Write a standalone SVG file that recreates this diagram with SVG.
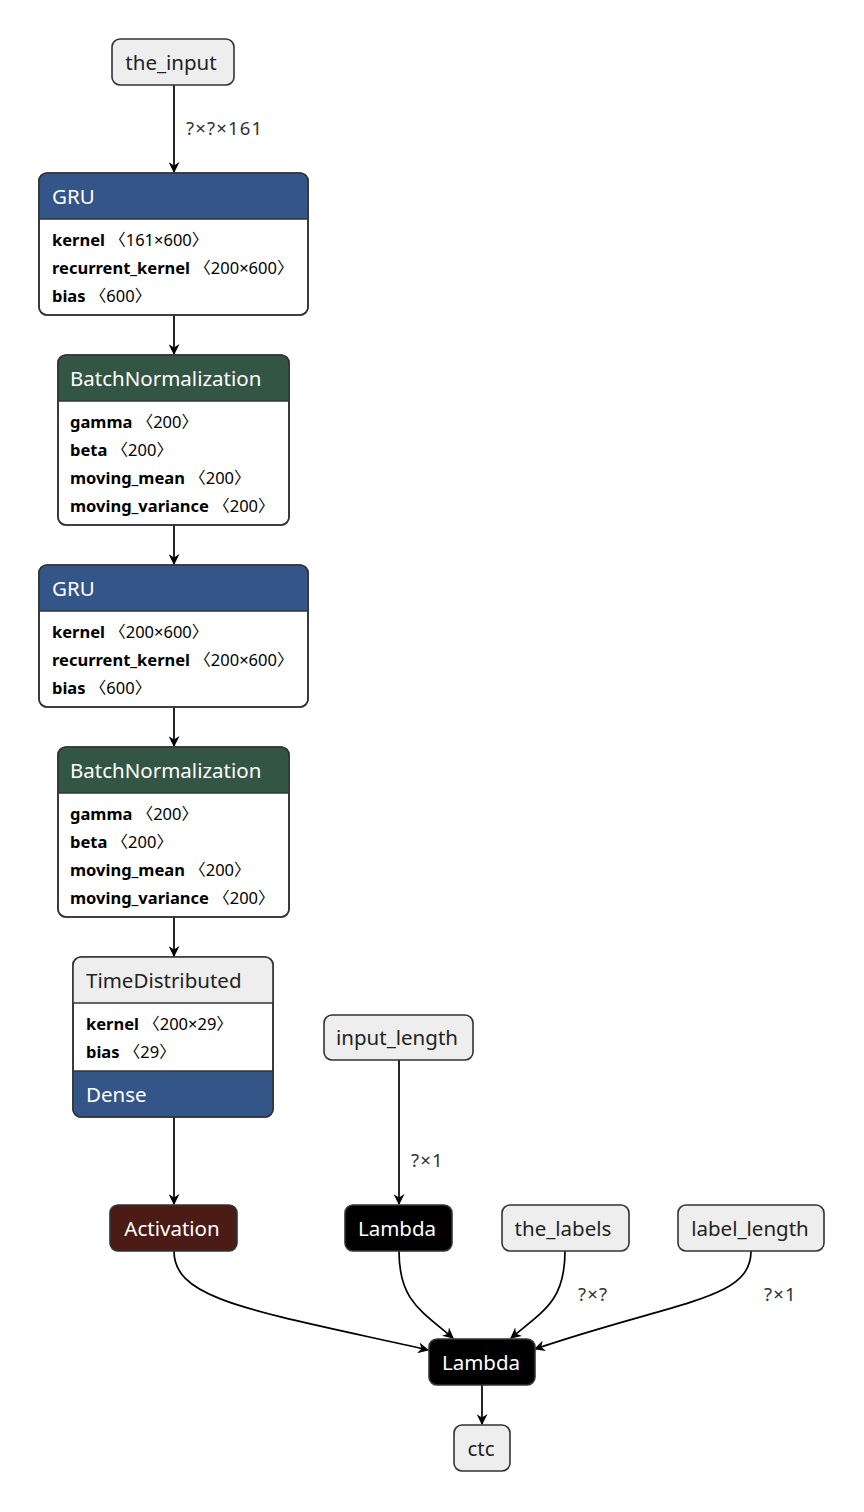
<svg xmlns="http://www.w3.org/2000/svg" width="864" height="1512" viewBox="0 0 864 1512">
  <style>
    text { font-family: "Noto Sans", "Open Sans", "Noto Sans CJK SC", sans-serif; }
    .box { stroke: #333; stroke-width: 1.6; }
    .plain { fill: #eeeeee; }
    .white { fill: #ffffff; }
    .blue { fill: #335588; }
    .green { fill: #335544; }
    .red { fill: #4b1b16; }
    .black { fill: #000000; }
    .sep { stroke: #333; stroke-width: 1.6; }
    .title { font-size: 20.5px; fill: #222; }
    .title-w { font-size: 20.5px; fill: #ffffff; }
    .attr { font-size: 16.5px; fill: #000; }
    .attr .k { font-weight: bold; }
    .elabel { font-size: 18.5px; fill: #333; letter-spacing: 1.2px; }
    .edge { fill: none; stroke: #000; stroke-width: 1.7; }
  </style>
  <defs>
    <marker id="arrow" viewBox="0 0 10 10" refX="9" refY="5" markerWidth="11" markerHeight="11" markerUnits="userSpaceOnUse" orient="auto">
      <path d="M0,0 L10,5 L0,10 L3,5 z" fill="#000"/>
    </marker>
  </defs>

  <!-- connectors -->
  <g id="edges">
    <path class="edge" d="M174,85 L174,172" marker-end="url(#arrow)"/>
    <text class="elabel" x="186" y="135">?×?×161</text>
    <path class="edge" d="M174,315 L174,354" marker-end="url(#arrow)"/>
    <path class="edge" d="M174,525 L174,564" marker-end="url(#arrow)"/>
    <path class="edge" d="M174,707 L174,746" marker-end="url(#arrow)"/>
    <path class="edge" d="M174,917 L174,956" marker-end="url(#arrow)"/>
    <path class="edge" d="M174,1117 L174,1204" marker-end="url(#arrow)"/>
    <path class="edge" d="M399,1060 L399,1204" marker-end="url(#arrow)"/>
    <text class="elabel" x="411" y="1167">?×1</text>
    <path class="edge" d="M174,1251 C174,1300 250,1310 428,1350" marker-end="url(#arrow)"/>
    <path class="edge" d="M399,1251 C399,1300 420,1310 453,1338" marker-end="url(#arrow)"/>
    <path class="edge" d="M565,1251 C565,1300 545,1310 511,1338" marker-end="url(#arrow)"/>
    <text class="elabel" x="578" y="1301">?×?</text>
    <path class="edge" d="M751,1251 C751,1300 680,1300 535,1349" marker-end="url(#arrow)"/>
    <text class="elabel" x="764" y="1301">?×1</text>
    <path class="edge" d="M482,1385 L482,1424" marker-end="url(#arrow)"/>
  </g>

  <g id="the_input">
    <rect class="box plain" x="112" y="39" width="122" height="46" rx="8"/>
    <text class="title" x="171" y="70" text-anchor="middle">the_input</text>
  </g>

  <g id="gru_1">
    <rect class="box white" x="39" y="173" width="269" height="142" rx="8"/>
    <path class="blue" d="M47,173 H300 A8,8 0 0 1 308,181 V219 H39 V181 A8,8 0 0 1 47,173 z"/>
    <rect class="box" fill="none" x="39" y="173" width="269" height="142" rx="8"/>
    <line class="sep" x1="39" y1="219" x2="308" y2="219"/>
    <text class="title-w" x="52" y="204">GRU</text>
    <text class="attr" x="52" y="246"><tspan class="k">kernel</tspan> 〈161×600〉</text>
    <text class="attr" x="52" y="274"><tspan class="k">recurrent_kernel</tspan> 〈200×600〉</text>
    <text class="attr" x="52" y="302"><tspan class="k">bias</tspan> 〈600〉</text>
  </g>

  <g id="batchnorm_1">
    <rect class="box white" x="58" y="355" width="231" height="170" rx="8"/>
    <path class="green" d="M66,355 H281 A8,8 0 0 1 289,363 V401 H58 V363 A8,8 0 0 1 66,355 z"/>
    <rect class="box" fill="none" x="58" y="355" width="231" height="170" rx="8"/>
    <line class="sep" x1="58" y1="401" x2="289" y2="401"/>
    <text class="title-w" x="70" y="386">BatchNormalization</text>
    <text class="attr" x="70" y="428"><tspan class="k">gamma</tspan> 〈200〉</text>
    <text class="attr" x="70" y="456"><tspan class="k">beta</tspan> 〈200〉</text>
    <text class="attr" x="70" y="484"><tspan class="k">moving_mean</tspan> 〈200〉</text>
    <text class="attr" x="70" y="512"><tspan class="k">moving_variance</tspan> 〈200〉</text>
  </g>

  <g id="gru_2">
    <rect class="box white" x="39" y="565" width="269" height="142" rx="8"/>
    <path class="blue" d="M47,565 H300 A8,8 0 0 1 308,573 V611 H39 V573 A8,8 0 0 1 47,565 z"/>
    <rect class="box" fill="none" x="39" y="565" width="269" height="142" rx="8"/>
    <line class="sep" x1="39" y1="611" x2="308" y2="611"/>
    <text class="title-w" x="52" y="596">GRU</text>
    <text class="attr" x="52" y="638"><tspan class="k">kernel</tspan> 〈200×600〉</text>
    <text class="attr" x="52" y="666"><tspan class="k">recurrent_kernel</tspan> 〈200×600〉</text>
    <text class="attr" x="52" y="694"><tspan class="k">bias</tspan> 〈600〉</text>
  </g>

  <g id="batchnorm_2">
    <rect class="box white" x="58" y="747" width="231" height="170" rx="8"/>
    <path class="green" d="M66,747 H281 A8,8 0 0 1 289,755 V793 H58 V755 A8,8 0 0 1 66,747 z"/>
    <rect class="box" fill="none" x="58" y="747" width="231" height="170" rx="8"/>
    <line class="sep" x1="58" y1="793" x2="289" y2="793"/>
    <text class="title-w" x="70" y="778">BatchNormalization</text>
    <text class="attr" x="70" y="820"><tspan class="k">gamma</tspan> 〈200〉</text>
    <text class="attr" x="70" y="848"><tspan class="k">beta</tspan> 〈200〉</text>
    <text class="attr" x="70" y="876"><tspan class="k">moving_mean</tspan> 〈200〉</text>
    <text class="attr" x="70" y="904"><tspan class="k">moving_variance</tspan> 〈200〉</text>
  </g>

  <g id="time_distributed">
    <rect class="box white" x="73" y="957" width="200" height="160" rx="8"/>
    <path class="plain" d="M81,957 H265 A8,8 0 0 1 273,965 V1003 H73 V965 A8,8 0 0 1 81,957 z"/>
    <path class="blue" d="M73,1071 H273 V1109 A8,8 0 0 1 265,1117 H81 A8,8 0 0 1 73,1109 z"/>
    <rect class="box" fill="none" x="73" y="957" width="200" height="160" rx="8"/>
    <line class="sep" x1="73" y1="1003" x2="273" y2="1003"/>
    <line class="sep" x1="73" y1="1071" x2="273" y2="1071"/>
    <text class="title" x="86" y="988">TimeDistributed</text>
    <text class="attr" x="86" y="1030"><tspan class="k">kernel</tspan> 〈200×29〉</text>
    <text class="attr" x="86" y="1058"><tspan class="k">bias</tspan> 〈29〉</text>
    <text class="title-w" x="86" y="1102">Dense</text>
  </g>

  <g id="activation">
    <rect class="box red" x="110" y="1205" width="127" height="46" rx="8"/>
    <text class="title-w" x="172" y="1236" text-anchor="middle">Activation</text>
  </g>

  <g id="input_length">
    <rect class="box plain" x="324" y="1015" width="149" height="45" rx="8"/>
    <text class="title" x="397" y="1045" text-anchor="middle">input_length</text>
  </g>

  <g id="lambda_1">
    <rect class="box black" x="345" y="1205" width="107" height="46" rx="8"/>
    <text class="title-w" x="397" y="1236" text-anchor="middle">Lambda</text>
  </g>

  <g id="the_labels">
    <rect class="box plain" x="502" y="1205" width="127" height="46" rx="8"/>
    <text class="title" x="563" y="1236" text-anchor="middle">the_labels</text>
  </g>

  <g id="label_length">
    <rect class="box plain" x="678" y="1205" width="146" height="46" rx="8"/>
    <text class="title" x="750" y="1236" text-anchor="middle">label_length</text>
  </g>

  <g id="lambda_2">
    <rect class="box black" x="429" y="1339" width="106" height="46" rx="8"/>
    <text class="title-w" x="481" y="1370" text-anchor="middle">Lambda</text>
  </g>

  <g id="ctc">
    <rect class="box plain" x="454" y="1425" width="56" height="46" rx="8"/>
    <text class="title" x="481" y="1456" text-anchor="middle">ctc</text>
  </g>
</svg>
